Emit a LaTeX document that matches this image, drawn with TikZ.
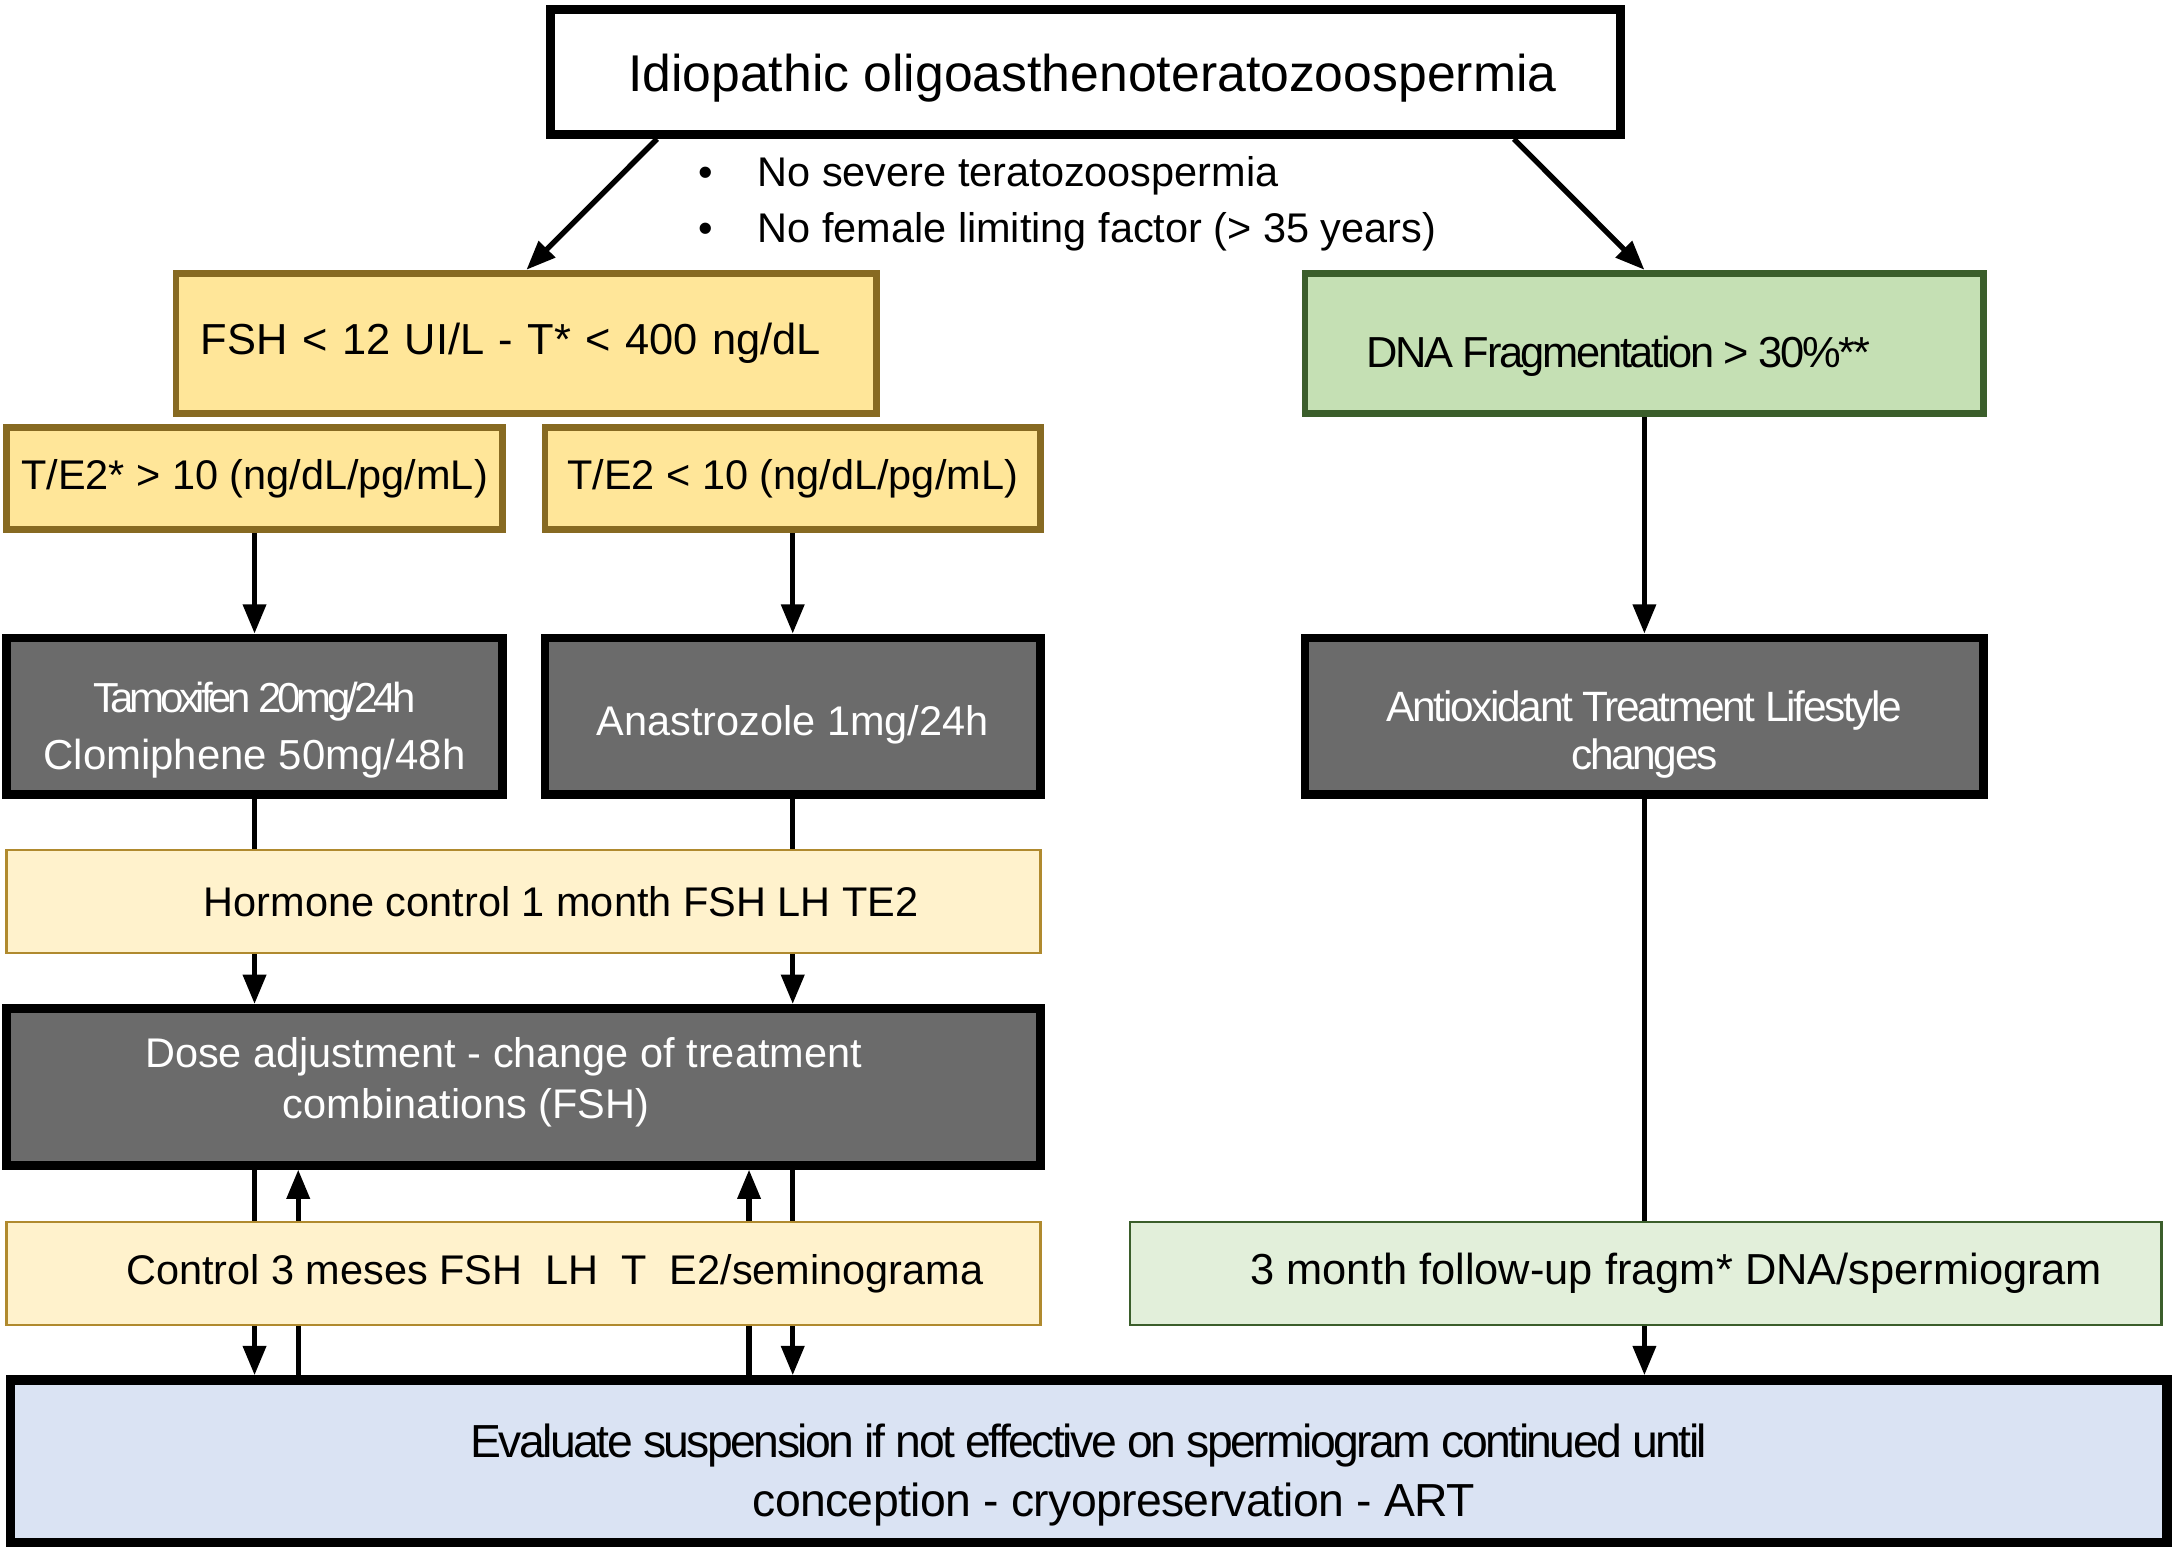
\documentclass[tikz,border=0pt]{standalone}
\usepackage{fontspec}
\setmainfont{Liberation Sans}
\newfontfamily\narrowfont[LetterSpace=-5.5]{Liberation Sans}
\newfontfamily\tightfont[LetterSpace=-10]{Liberation Sans}
\newfontfamily\slightfont[LetterSpace=-1.3]{Liberation Sans}
\usetikzlibrary{arrows.meta,positioning}
\definecolor{goldfill}{HTML}{FFE699}
\definecolor{goldline}{HTML}{876A22}
\definecolor{greenfill}{HTML}{C5E0B4}
\definecolor{greenline}{HTML}{3B5E2B}
\definecolor{darkfill}{HTML}{6B6B6B}
\definecolor{creamfill}{HTML}{FFF2CC}
\definecolor{creamline}{HTML}{B08A2E}
\definecolor{palegreen}{HTML}{E2EFDA}
\definecolor{bluefill}{HTML}{DAE3F3}
\begin{document}
\begin{tikzpicture}[
        x=0.01cm, y=-0.01cm,
        every node/.style={font=\fontsize{8.5}{10.5}\selectfont, inner sep=0pt},
        box/.style={rectangle, align=center},
        titlebox/.style={box, draw=black, line width=1.8pt, fill=white, font=\fontsize{10.6}{12}\selectfont},
        goldbox/.style={box, draw=goldline, line width=1.4pt, fill=goldfill},
        greenbox/.style={box, draw=greenline, line width=1.4pt, fill=greenfill},
        darkbox/.style={box, draw=black, line width=1.8pt, fill=darkfill, text=white},
        creambox/.style={box, draw=creamline, line width=0.5pt, fill=creamfill},
        palebox/.style={box, draw=greenline, line width=0.5pt, fill=palegreen},
        evalbox/.style={box, draw=black, line width=2pt, fill=bluefill},
        whitetext/.style={text=white, align=center},
        arr/.style={-{Triangle[length=6pt,width=4.6pt]}, line width=1.1pt},
        link/.style={line width=1.1pt},
    ]
    \useasboundingbox (0,0) rectangle (1568,1118);

    \node[titlebox, minimum width=7.71cm, minimum height=0.9cm,
          label={[font=\fontsize{10.6}{12}\selectfont, yshift=-0.04cm, xshift=0.05cm]center:Idiopathic oligoasthenoteratozoospermia}]
        (idio) at (782.5,52) {};
    \node[anchor=west, align=left, font=\fontsize{8.5}{11.4}\selectfont] (cond) at (503,147)
        {\textbullet\hspace{0.32cm}No severe teratozoospermia\\
         \textbullet\hspace{0.32cm}No female limiting factor (> 35 years)};

    % left branch
    \node[goldbox, minimum width=5.05cm, minimum height=1.01cm, text width=4.69cm,
          inner xsep=0.18cm, align=left, font=\fontsize{8.9}{10.5}\selectfont] (fsh) at (379.5,247.5)
        {FSH < 12 UI/L - T* < 400 ng/dL};
    \node[goldbox, minimum width=3.57cm, minimum height=0.74cm] (te2hi) at (183.5,345)
        {T/E2* > 10 (ng/dL/pg/mL)};
    \node[goldbox, minimum width=3.57cm, minimum height=0.74cm] (te2lo) at (571.5,345)
        {T/E2 < 10 (ng/dL/pg/mL)};
    \node[darkbox, minimum width=3.57cm, minimum height=1.13cm,
          label={[whitetext, font=\fontsize{8.6}{11.7}\selectfont, yshift=-0.1cm]center:{\tightfont Tamoxifen 20mg/24h}\\Clomiphene 50mg/48h}]
        (tamox) at (183.5,516.5) {};
    \node[darkbox, minimum width=3.57cm, minimum height=1.13cm,
          label={[whitetext, yshift=-0.06cm]center:Anastrozole 1mg/24h}]
        (anastro) at (571.5,516.5) {};
    \node[creambox, minimum width=7.45cm, minimum height=0.74cm] (hormone) at (377.5,650)
        {\hspace*{0.54cm}Hormone control 1 month FSH LH TE2};
    \node[darkbox, minimum width=7.45cm, minimum height=1.13cm,
          label={[whitetext, yshift=0.03cm]center:Dose adjustment - change of treatment\hspace*{0.29cm}\\combinations (FSH)\hspace*{0.83cm}}]
        (dose) at (377.5,783.5) {};
    \node[creambox, minimum width=7.45cm, minimum height=0.74cm] (control) at (377.5,918)
        {\hspace*{0.45cm}Control 3 meses FSH\ \ LH\ \ T\ \ E2/seminograma};

    % right branch
    \node[greenbox, minimum width=4.89cm, minimum height=1.01cm,
          label={[anchor=west, font=\narrowfont\fontsize{8.9}{10.5}\selectfont, xshift=0.46cm, yshift=-0.09cm]west:DNA Fragmentation > 30\%**}]
        (dna) at (1185.5,247.5) {};
    \node[darkbox, minimum width=4.89cm, minimum height=1.13cm,
          label={[whitetext, font=\narrowfont\fontsize{8.7}{10}\selectfont, yshift=-0.13cm]center:Antioxidant Treatment Lifestyle\\changes}]
        (antiox) at (1185.5,516.5) {};
    \node[palebox, minimum width=7.43cm, minimum height=0.74cm, font=\fontsize{8.9}{10.5}\selectfont] (follow) at (1186.5,918)
        {\hspace*{0.44cm}3 month follow-up fragm* DNA/spermiogram};

    \node[evalbox, minimum width=15.54cm, minimum height=1.17cm,
          label={[align=center, font=\narrowfont\fontsize{9.5}{12}\selectfont, yshift=-0.1cm]center:Evaluate suspension if not effective on spermiogram continued until\\
         \hspace*{0.36cm}{\slightfont conception - cryopreservation - ART}}]
        (eval) at (785,1053.5) {};

    \coordinate (colB) at (215,0);
    \coordinate (colC) at (540,0);

    \draw[arr] ([xshift=0.8cm]idio.south west) -- (fsh.north);
    \draw[arr] ([xshift=-0.8cm]idio.south east) -- (dna.north);
    \draw[arr] (te2hi.south) -- (tamox.north);
    \draw[arr] (te2lo.south) -- (anastro.north);
    \draw[arr] (dna.south) -- (antiox.north);
    \draw[link] (tamox.south) -- (tamox.south |- hormone.north);
    \draw[link] (anastro.south) -- (anastro.south |- hormone.north);
    \draw[arr] (tamox.south |- hormone.south) -- (tamox.south |- dose.north);
    \draw[arr] (anastro.south |- hormone.south) -- (anastro.south |- dose.north);
    \draw[link] (tamox.south |- dose.south) -- (tamox.south |- control.north);
    \draw[arr] (tamox.south |- control.south) -- (tamox.south |- eval.north);
    \draw[link] (anastro.south |- dose.south) -- (anastro.south |- control.north);
    \draw[arr] (anastro.south |- control.south) -- (anastro.south |- eval.north);
    \draw[link] (colB |- eval.north) -- (colB |- control.south);
    \draw[arr] (colB |- control.north) -- (colB |- dose.south);
    \draw[link] (colC |- eval.north) -- (colC |- control.south);
    \draw[arr] (colC |- control.north) -- (colC |- dose.south);
    \draw[link] (antiox.south) -- (antiox.south |- follow.north);
    \draw[arr] (antiox.south |- follow.south) -- (antiox.south |- eval.north);
\end{tikzpicture}
\end{document}
